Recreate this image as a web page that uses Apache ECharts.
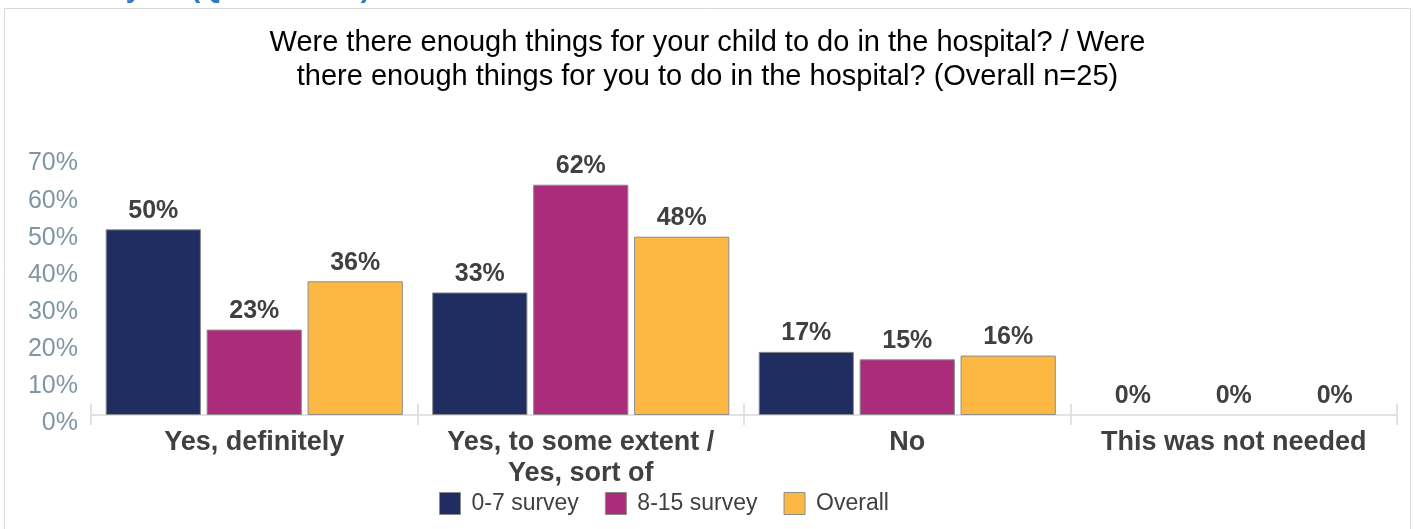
<!DOCTYPE html>
<html>
<head>
<meta charset="utf-8">
<script src="https://cdn.jsdelivr.net/npm/echarts@6/dist/echarts.min.js"></script>
<style>
html,body{margin:0;padding:0;background:#fff;}
#chart{width:1415px;height:529px;}
</style>
</head>
<body>
<div id="chart"></div>
<script>
var categories = ['Yes, definitely', 'Yes, to some extent /\nYes, sort of', 'No', 'This was not needed'];
var seriesNames = ['0-7 survey', '8-15 survey', 'Overall'];
var survey0to7 = [50, 33, 17, 0];
var survey8to15 = [23, 62, 15, 0];
var overall = [36, 48, 16, 0];
var yTickLabels = ['0%', '10%', '20%', '30%', '40%', '50%', '60%', '70%'];
var titleLines = ['Were there enough things for your child to do in the hospital? / Were', 'there enough things for you to do in the hospital? (Overall n=25)'];
var headerText = 'in the last year (Question 21)';

var colors = ['#202d60', '#ab2c7a', '#fdb843'];
var font = '"Liberation Sans", Arial, sans-serif';
var seriesData = [survey0to7, survey8to15, overall];

var chart = echarts.init(document.getElementById('chart'), null, {renderer: 'canvas'});

var series = seriesNames.map(function (name, i) {
  return {
    name: name,
    type: 'bar',
    data: seriesData[i].map(function (v) {
      return v === 0 ? {value: v, itemStyle: {borderWidth: 0}} : v;
    }),
    barGap: '6%',
    barCategoryGap: '9%',
    itemStyle: {color: colors[i], borderColor: '#8c8c8c', borderWidth: 1},
    label: {
      show: true,
      position: 'top',
      distance: 6,
      formatter: function (p) { return p.value + '%'; },
      fontFamily: font,
      fontSize: 25,
      fontWeight: 'bold',
      color: '#404040'
    }
  };
});

chart.setOption({
  animation: false,
  backgroundColor: '#ffffff',
  color: colors,
  title: {
    text: titleLines.join('\n'),
    left: 'center',
    top: 21,
    textStyle: {fontFamily: font, fontSize: 29, fontWeight: 'normal', color: '#000000', lineHeight: 34}
  },
  graphic: [
    {
      type: 'rect',
      shape: {x: 4.5, y: 8.5, width: 1406, height: 540},
      style: {fill: 'none', stroke: '#d9d9d9', lineWidth: 1},
      silent: true
    },
    {
      type: 'text',
      x: 370,
      y: 3,
      style: {
        text: headerText,
        fontFamily: font,
        fontSize: 28,
        fontWeight: 'bold',
        fill: '#2e78c4',
        align: 'right',
        verticalAlign: 'bottom',
        lineHeight: 28
      },
      silent: true
    }
  ],
  legend: {
    data: seriesNames,
    left: 434,
    top: 487,
    itemWidth: 21,
    itemHeight: 22,
    itemGap: 26,
    icon: 'rect',
    itemStyle: {borderColor: '#8c8c8c', borderWidth: 1},
    textStyle: {fontFamily: font, fontSize: 23, color: '#404040', padding: [0, 0, 0, 6]}
  },
  grid: {left: 91, right: 18, top: 155, bottom: 114, containLabel: false},
  xAxis: [
    {
      type: 'category',
      data: categories,
      position: 'bottom',
      axisLine: {show: true, lineStyle: {color: '#d9d9d9', width: 1.5}},
      axisTick: {show: true, alignWithLabel: false, length: 10, lineStyle: {color: '#d9d9d9', width: 1.5}},
      axisLabel: {
        interval: 0,
        margin: 12,
        fontFamily: font,
        fontSize: 27,
        fontWeight: 'bold',
        color: '#404040',
        lineHeight: 31
      }
    },
    {
      type: 'category',
      data: categories,
      position: 'top',
      offset: -259,
      axisLine: {show: false},
      axisTick: {show: true, length: 10, lineStyle: {color: '#d9d9d9', width: 1.5}},
      axisLabel: {show: false}
    }
  ],
  yAxis: {
    type: 'value',
    min: 0,
    max: 70,
    interval: 10,
    axisLine: {show: false},
    axisTick: {show: false},
    splitLine: {show: false},
    axisLabel: {
      margin: 13,
      fontFamily: font,
      fontSize: 25,
      color: '#7f96a3',
      verticalAlign: 'top',
      lineHeight: 17,
      formatter: function (v) { return yTickLabels[Math.round(v / 10)]; }
    }
  },
  series: series
});
</script>
</body>
</html>
